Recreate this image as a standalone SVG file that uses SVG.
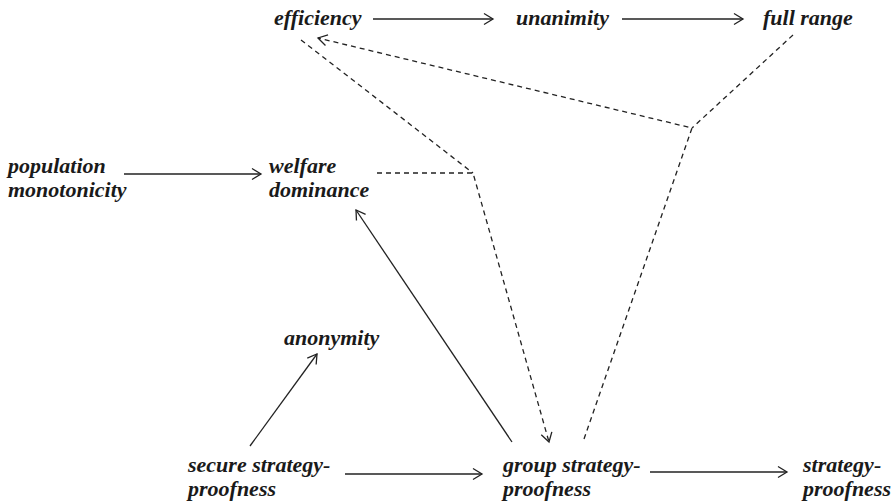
<svg xmlns="http://www.w3.org/2000/svg" width="892" height="501" viewBox="0 0 892 501">
<defs>
<style>
.lbl{font-family:"Liberation Serif","Times New Roman",serif;font-style:italic;font-weight:bold;font-size:22px;fill:#1a1a1a}
.solid{stroke:#222;stroke-width:1.3;fill:none}
.dash{stroke:#222;stroke-width:1.3;fill:none;stroke-dasharray:5 4}
</style>
<marker id="ah" markerUnits="userSpaceOnUse" markerWidth="20" markerHeight="20" viewBox="-12 -10 14 20" refX="0" refY="0" orient="auto">
<path d="M -9 -5.5 L 0 0 L -9 5.5" stroke="#222" stroke-width="1.3" fill="none"/>
</marker>
</defs>
<rect width="892" height="501" fill="#fff"/>
<g id="connectors">
<line class="solid" x1="373" y1="19" x2="493" y2="19" marker-end="url(#ah)"/>
<line class="solid" x1="622" y1="19" x2="743" y2="19" marker-end="url(#ah)"/>
<line class="solid" x1="124" y1="174" x2="261" y2="174" marker-end="url(#ah)"/>
<line class="solid" x1="512" y1="442" x2="356" y2="210" marker-end="url(#ah)"/>
<line class="solid" x1="250" y1="446" x2="317" y2="354" marker-end="url(#ah)"/>
<line class="solid" x1="345" y1="474" x2="482" y2="474" marker-end="url(#ah)"/>
<line class="solid" x1="650" y1="472" x2="787" y2="472" marker-end="url(#ah)"/>
<polyline class="dash" points="301,40 473,173"/>
<polyline class="dash" points="377,173 473,173 549,442" marker-end="url(#ah)"/>
<polyline class="dash" points="793,35 692,128"/>
<polyline class="dash" points="584,439 692,128 318,38" marker-end="url(#ah)"/>
</g>
<g id="efficiency"><text class="lbl" x="274" y="25">efficiency</text></g>
<g id="unanimity"><text class="lbl" x="516" y="25">unanimity</text></g>
<g id="full-range"><text class="lbl" x="763" y="25">full range</text></g>
<g id="population-monotonicity"><text class="lbl" x="8" y="173">population</text><text class="lbl" x="8" y="197">monotonicity</text></g>
<g id="welfare-dominance"><text class="lbl" x="269" y="173">welfare</text><text class="lbl" x="269" y="197">dominance</text></g>
<g id="anonymity"><text class="lbl" x="284" y="345">anonymity</text></g>
<g id="secure-strategy-proofness"><text class="lbl" x="188" y="472">secure strategy-</text><text class="lbl" x="188" y="496">proofness</text></g>
<g id="group-strategy-proofness"><text class="lbl" x="503" y="472">group strategy-</text><text class="lbl" x="503" y="496">proofness</text></g>
<g id="strategy-proofness"><text class="lbl" x="803" y="472">strategy-</text><text class="lbl" x="803" y="496">proofness</text></g>
</svg>
